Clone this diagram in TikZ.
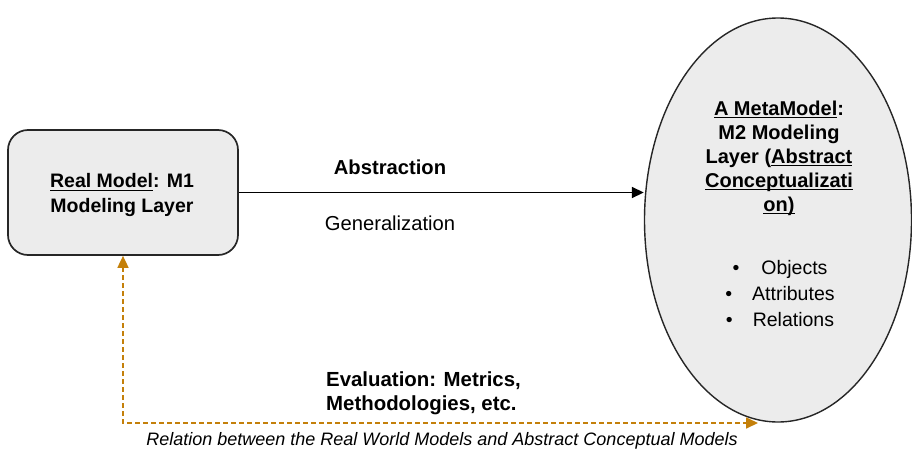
\documentclass[tikz,border=0pt]{standalone}
\usepackage{fontspec}
\setmainfont{Liberation Sans}
\usetikzlibrary{arrows.meta,shapes.geometric}
\definecolor{boxfill}{RGB}{236,236,236}
\definecolor{evalcol}{RGB}{196,128,10}
\newcommand\myul[1]{\setbox0\hbox{#1}\rlap{\raisebox{-3.2pt}{\rule{\wd0}{1.4pt}}}\box0}
\begin{document}
\begin{tikzpicture}[x=1pt,y=-1pt,
  boxstyle/.style={draw=black!85,line width=1.7pt,fill=boxfill},
  mainarrow/.style={draw=black,line width=1.7pt,-{Triangle[length=12pt,width=11pt]}},
  evalarrow/.style={draw=evalcol,line width=1.7pt,dash pattern=on 5pt off 3pt,
     {Triangle[length=12pt,width=11pt]}-{Triangle[length=12pt,width=11pt]}},
  btxt/.style={font=\fontsize{19.5}{24.5}\selectfont\bfseries,align=center,inner sep=0pt},
  rtxt/.style={font=\fontsize{20}{24}\selectfont,align=center,inner sep=0pt}]
\useasboundingbox (0,0) rectangle (912,455);
\node[boxstyle,rounded corners=20pt,minimum width=230pt,minimum height=125pt,inner sep=0pt] (real) at (123,192.5) {};
\node[boxstyle,ellipse,minimum width=267pt,minimum height=404pt,inner sep=0pt,line width=1.4pt] (meta) at (778,220) {};
\node[btxt] (realtxt) at (122,195) {\myul{Real Model}: M1\\Modeling Layer};
\node[btxt,font=\fontsize{20}{24}\selectfont\bfseries] (metatxt) at (779,158) {\myul{A MetaModel}:\\M2 Modeling\\Layer (\myul{Abstract}\\\myul{Conceptualizati}\\\myul{on)}};
\node[rtxt,font=\fontsize{19.5}{26}\selectfont] (list) at (780,294) {\textbullet\hspace{22pt}Objects\\\textbullet\hspace{20pt}Attributes\\\textbullet\hspace{20pt}Relations};
\coordinate (arrowend) at (real.east -| meta.west);
\draw[mainarrow] (real.east) -- (arrowend);
\node[btxt,font=\fontsize{20.2}{24}\selectfont\bfseries] (abstr) at (390,167) {Abstraction};
\node[rtxt,font=\fontsize{20.2}{24}\selectfont] (gener) at (390,223) {Generalization};
\coordinate (evaltip) at (758,423);
\coordinate (corner) at (123,423);
\draw[evalarrow] (real.south) -- (corner) -- (evaltip);
\node[btxt,font=\fontsize{20.4}{24}\selectfont\bfseries,align=left,anchor=west] (evaltxt) at (326,393) {Evaluation: Metrics,\\Methodologies, etc.};
\node[rtxt,font=\fontsize{18}{20}\selectfont\itshape] (caption) at (442,441) {Relation between the Real World Models and Abstract Conceptual Models};
\end{tikzpicture}
\end{document}
